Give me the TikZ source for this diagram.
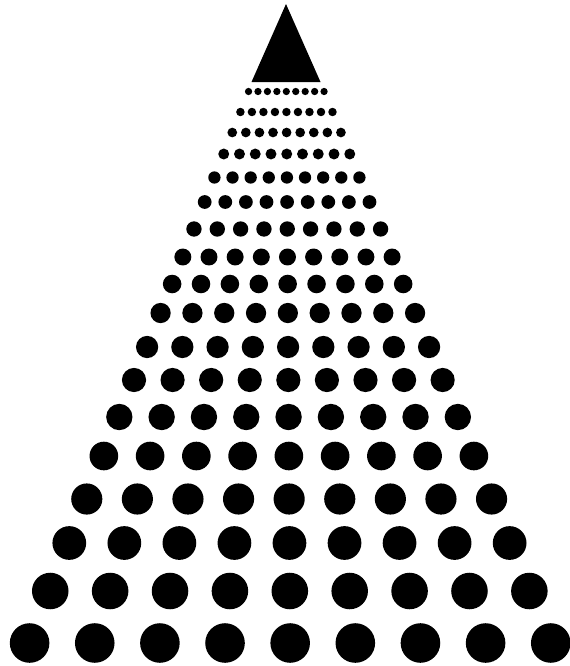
\documentclass[tikz,border=0pt]{standalone}
\usepackage{tikz}

\tikzset{dotfill/.style={fill=black}}

\begin{document}
\begin{tikzpicture}[x=0.02cm, y=-0.02cm]
  \useasboundingbox (0,0) rectangle (570,666);

  % Apex triangle
  \fill (286,4) -- (320.5,82) -- (251.5,82) -- cycle;

  % Rows of dots, fanning out from the apex
  \foreach \ry in {91.5,112,132.5,154,177.5,202,229,257,284,313,347,380,417,456,499,543,591,643} {
    \pgfmathsetmacro{\rowgap}{0.101*\ry+0.2}
    \pgfmathsetmacro{\dotr}{0.29*\rowgap+0.9}
    \pgfmathsetmacro{\rowmid}{286.3+0.007*(\ry-90)}
    \foreach \k in {-4,...,4}
      \fill[dotfill] (\rowmid+\k*\rowgap, \ry) circle[radius=\dotr];
  }
\end{tikzpicture}
\end{document}
